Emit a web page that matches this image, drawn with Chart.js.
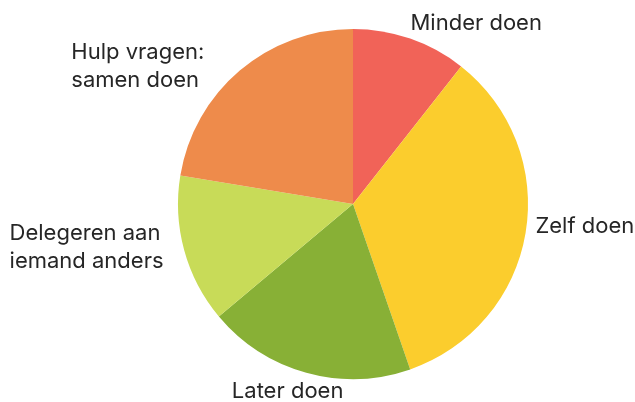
<!DOCTYPE html>
<html>
<head>
<meta charset="utf-8">
<script src="https://cdn.jsdelivr.net/npm/chart.js@4"></script>
<style>
  html, body { margin: 0; padding: 0; background: #ffffff; }
  #wrap { width: 635px; height: 402px; }
</style>
</head>
<body>
<div id="wrap"><canvas id="pieChart" width="635" height="402"></canvas></div>
<script>
    // slice labels (each line is an entry) and values, clockwise from 12 o'clock
    const labels = [
        ['Minder doen'],
        ['Zelf doen'],
        ['Later doen'],
        ['Delegeren aan', 'iemand anders'],
        ['Hulp vragen:', 'samen doen']
    ];
    const values = [10.6, 34.1, 19.2, 13.7, 22.4];
    const colors = ['#f16358', '#fbcd2d', '#88b036', '#c8db58', '#ee8b4b'];

    // small hand tweaks of where each label sits relative to its slice
    const labelNudge = [[-3, 1], [0, -9], [-16, 0], [-11, -6], [-29, 24]];

    const LINE_H = 28;
    const CAP_H = 16;
    const GAP = 10;

    const outsideLabels = {
        id: 'outsideLabels',
        afterDatasetsDraw(chart) {
            const ctx = chart.ctx;
            const meta = chart.getDatasetMeta(0);
            ctx.save();
            ctx.font = '400 22px Inter, "Noto Sans", sans-serif';
            ctx.fillStyle = '#262626';
            ctx.textAlign = 'left';
            ctx.textBaseline = 'middle';
            meta.data.forEach(function (arc, i) {
                const p = arc.getProps(['x', 'y', 'startAngle', 'endAngle', 'outerRadius'], true);
                const mid = (p.startAngle + p.endAngle) / 2;
                const dx = Math.cos(mid), dy = Math.sin(mid);
                const ax = p.x + dx * (p.outerRadius + GAP);
                const ay = p.y + dy * (p.outerRadius + GAP);
                const lines = labels[i];
                let w = 0;
                lines.forEach(function (l) { w = Math.max(w, ctx.measureText(l).width); });
                const h = (lines.length - 1) * LINE_H + CAP_H;
                let left = ax - w * (dx < -0.3 ? 1 : (dx > 0.3 ? 0 : 0.5));
                let cy = ay + (h / 2) * (dy > 0.3 ? 1 : (dy < -0.3 ? -1 : 0));
                const n = labelNudge[i] || [0, 0];
                left += n[0];
                cy += n[1];
                const firstY = cy - (lines.length - 1) * LINE_H / 2;
                lines.forEach(function (l, j) {
                    ctx.fillText(l, left, firstY + j * LINE_H + 1);
                });
            });
            ctx.restore();
        }
    };

    new Chart(document.getElementById('pieChart'), {
        type: 'pie',
        data: {
            labels: labels.map(function (l) { return l.join(' '); }),
            datasets: [{
                data: values,
                backgroundColor: colors,
                borderWidth: 0
            }]
        },
        options: {
            responsive: false,
            animation: false,
            layout: { padding: { top: 29, bottom: 23, left: 178, right: 107 } },
            plugins: {
                legend: { display: false },
                tooltip: { enabled: false }
            }
        },
        plugins: [outsideLabels]
    });
</script>
</body>
</html>
